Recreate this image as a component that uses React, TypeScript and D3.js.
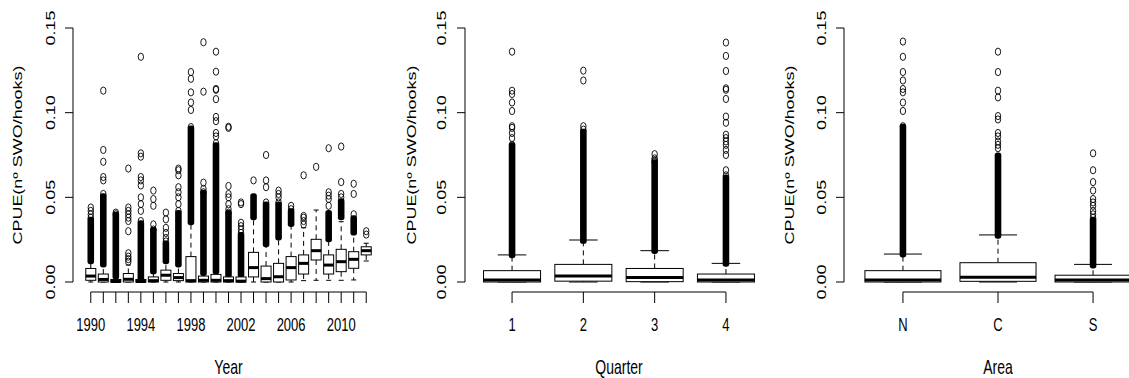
import React from "react";
import * as d3 from "d3";

// ---------- DATA ----------
const years = ["1990","1991","1992","1993","1994","1995","1996","1997","1998","1999","2000","2001","2002","2003","2004","2005","2006","2007","2008","2009","2010","2011","2012"];
const yearTickLabels = ["1990","1994","1998","2002","2006","2010"];
const yearLow = [0,0,0,0,0,0,0,0,0,0,0,0,0,0,0,0,0,0.0008,0.001,0.001,0.001,0.0012,0.0124];
const yearQ1 = [0.001,0,0,0,0,0,0.001,0.0008,0,0,0,0,0,0.003,0,0,0.0012,0.0047,0.013,0.0047,0.0061,0.0081,0.016];
const yearMedian = [0.0035,0.0015,0.0003,0.0016,0.0003,0.0008,0.004,0.0026,0.0008,0.001,0.001,0.0008,0.0005,0.0085,0.002,0.0031,0.0085,0.011,0.0185,0.01,0.012,0.0134,0.0185];
const yearQ3 = [0.008,0.0047,0.0015,0.005,0.0015,0.003,0.007,0.005,0.015,0.0035,0.0045,0.003,0.003,0.0175,0.0094,0.011,0.015,0.016,0.0252,0.016,0.0193,0.0179,0.0208];
const yearHigh = [0.012,0.010,0.003,0.010,0.002,0.007,0.012,0.010,0.035,0.005,0.006,0.004,0.004,0.038,0.022,0.026,0.034,0.032,0.0425,0.025,0.0356,0.028,0.0229];
const yearDense: ([number, number] | null)[] = [[0.013,0.036],[0.011,0.050],[0.004,0.039],null,[0.003,0.034],[0.007,0.030],[0.013,0.022],[0.011,0.040],[0.036,0.090],[0.006,0.052],[0.007,0.080],[0.005,0.040],[0.005,0.027],[0.039,0.050],[0.023,0.045],[0.027,0.045],[0.035,0.041],null,null,[0.026,0.040],[0.039,0.047],[0.030,0.037],null];
const yearOutliers = [
  [0.038,0.040,0.042,0.044],
  [0.052,0.060,0.062,0.071,0.078,0.113],
  [0.040,0.041],
  [0.012,0.0135,0.015,0.017,0.030,0.036,0.038,0.040,0.042,0.044,0.067],
  [0.036,0.042,0.046,0.050,0.057,0.060,0.062,0.074,0.076,0.133],
  [0.031,0.034,0.045,0.049,0.054],
  [0.024,0.026,0.029,0.032,0.037,0.041],
  [0.042,0.046,0.050,0.053,0.056,0.063,0.066,0.067],
  [0.0915,0.1016,0.106,0.112,0.120,0.124],
  [0.053,0.055,0.0587,0.1124,0.1416],
  [0.082,0.086,0.088,0.095,0.0975,0.108,0.1135,0.114,0.1242,0.136],
  [0.041,0.043,0.046,0.050,0.052,0.0567,0.091,0.0917],
  [0.029,0.031,0.033,0.035,0.046,0.047],
  [0.060],
  [0.047,0.056,0.060,0.075],
  [0.047,0.050,0.052,0.054],
  [0.043,0.045],
  [0.034,0.036,0.038,0.039,0.063],
  [0.068],
  [0.045,0.049,0.051,0.053,0.079],
  [0.050,0.052,0.059,0.080],
  [0.040,0.052,0.058],
  [0.028,0.030],
];

const quarters = ["1","2","3","4"];
const quarterLow = [0,0,0,0];
const quarterQ1 = [0,0.0005,0.0002,0];
const quarterMedian = [0.0012,0.0035,0.0026,0.0012];
const quarterQ3 = [0.0067,0.0104,0.008,0.0047];
const quarterHigh = [0.016,0.0248,0.0185,0.011];
const quarterDense: ([number, number] | null)[] = [[0.0165,0.080],[0.025,0.088],[0.019,0.070],[0.0115,0.061]];
const quarterOutliers = [
  [0.081,0.085,0.088,0.091,0.092,0.101,0.106,0.111,0.113,0.136],
  [0.090,0.092,0.119,0.1248],
  [0.071,0.072,0.073,0.0755],
  [0.063,0.066,0.075,0.078,0.081,0.083,0.085,0.087,0.094,0.0977,0.1081,0.1135,0.1144,0.1246,0.1335,0.1414],
];

const areas = ["N","C","S"];
const areaLow = [0,0,0];
const areaQ1 = [0,0.0004,0];
const areaMedian = [0.0012,0.0028,0.0012];
const areaQ3 = [0.0067,0.0114,0.004];
const areaHigh = [0.0165,0.0278,0.0104];
const areaDense: ([number, number] | null)[] = [[0.017,0.091],[0.028,0.074],[0.0105,0.036]];
const areaOutliers = [
  [0.092,0.101,0.106,0.112,0.114,0.119,0.124,0.133,0.142],
  [0.079,0.081,0.083,0.086,0.088,0.096,0.098,0.109,0.113,0.124,0.136],
  [0.038,0.040,0.042,0.045,0.047,0.049,0.054,0.059,0.066,0.076],
];

const yTickValues = [0, 0.05, 0.1, 0.15];
const yTickLabels = ["0.00", "0.05", "0.10", "0.15"];
const yTitle = "CPUE(nº SWO/hooks)";

// ---------- LAYOUT ----------
const W = 1129;
const H = 378;
const STRETCH = 1.38;
const FONT = "'Liberation Sans', Arial, Helvetica, sans-serif";
const Y_TOP = 28;
const Y_BOTTOM = 282;
const X_AXIS_Y = 292;
const TICK_LEN = 11;
const TICK_LABEL_Y = 325;
const X_TITLE_Y = 368;
const RX = 2.7;
const RY = 3.6;

type Series = {
  cats: string[];
  shown: string[];
  low: number[]; q1: number[]; med: number[]; q3: number[]; high: number[];
  dense: ([number, number] | null)[];
  outliers: number[][];
  title: string;
};

function SText({ x, y, rotate, size, children }: { x: number; y: number; rotate?: boolean; size: number; children: React.ReactNode }) {
  return (
    <text
      transform={`translate(${x},${y}) scale(1,${STRETCH})${rotate ? " rotate(-90)" : ""}`}
      textAnchor="middle"
      dominantBaseline="central"
      fontSize={size}
      fontFamily={FONT}
      fill="#000"
    >
      {children}
    </text>
  );
}

function Panel({ s, left, right, yTickX, yTitleX }: { s: Series; left: number; right: number; yTickX: number; yTitleX: number }) {
  const n = s.cats.length;
  const x = d3.scaleLinear().domain([0.5 - 0.04 * n, n + 0.5 + 0.04 * n]).range([left, right]);
  const y = d3.scaleLinear().domain([0, 0.15]).range([Y_BOTTOM, Y_TOP]);
  const unit = x(2) - x(1);
  const half = (unit * 0.8) / 2;
  const staple = half / 2;
  const cx = (i: number) => x(i + 1);

  return (
    <g>
      {/* y axis */}
      <line x1={left} x2={left} y1={y(0)} y2={y(0.15)} stroke="#000" strokeWidth={1} />
      {yTickValues.map((v, i) => (
        <g key={i}>
          <line x1={left - 8} x2={left} y1={y(v)} y2={y(v)} stroke="#000" strokeWidth={1} />
          <SText x={yTickX} y={y(v)} rotate size={13}>{yTickLabels[i]}</SText>
        </g>
      ))}
      <SText x={yTitleX} y={(y(0) + y(0.15)) / 2} rotate size={13}>{yTitle}</SText>

      {/* x axis */}
      <line x1={cx(0)} x2={cx(n - 1)} y1={X_AXIS_Y} y2={X_AXIS_Y} stroke="#000" strokeWidth={1} />
      {s.cats.map((c, i) => (
        <g key={c}>
          <line x1={cx(i)} x2={cx(i)} y1={X_AXIS_Y} y2={X_AXIS_Y + TICK_LEN} stroke="#000" strokeWidth={1} />
          {s.shown.includes(c) && <SText x={cx(i)} y={TICK_LABEL_Y} size={13}>{c}</SText>}
        </g>
      ))}
      <SText x={(left + right) / 2} y={X_TITLE_Y} size={14}>{s.title}</SText>

      {/* boxes */}
      {s.cats.map((c, i) => {
        const xc = cx(i);
        const d = s.dense[i];
        return (
          <g key={"b" + c}>
            {d && (
              <rect
                x={xc - RX - 0.6}
                width={2 * (RX + 0.6)}
                y={y(d[1]) - RY - 0.6}
                height={y(d[0]) - y(d[1]) + 2 * (RY + 0.6)}
                rx={RX}
                fill="#000"
              />
            )}
            {s.outliers[i].map((v, k) => (
              <ellipse key={k} cx={xc} cy={y(v)} rx={RX} ry={RY} fill="none" stroke="#000" strokeWidth={0.9} />
            ))}
            {/* whiskers */}
            <line x1={xc} x2={xc} y1={y(s.q3[i])} y2={y(s.high[i])} stroke="#000" strokeWidth={1} strokeDasharray="5,4" />
            <line x1={xc} x2={xc} y1={y(s.q1[i])} y2={y(s.low[i])} stroke="#000" strokeWidth={1} strokeDasharray="5,4" />
            <line x1={xc - staple} x2={xc + staple} y1={y(s.high[i])} y2={y(s.high[i])} stroke="#000" strokeWidth={1} />
            <line x1={xc - staple} x2={xc + staple} y1={y(s.low[i])} y2={y(s.low[i])} stroke="#000" strokeWidth={1} />
            {/* box */}
            <rect x={xc - half} width={2 * half} y={y(s.q3[i])} height={Math.max(0.5, y(s.q1[i]) - y(s.q3[i]))} fill="#fff" stroke="#000" strokeWidth={1} />
            <line x1={xc - half} x2={xc + half} y1={y(s.med[i])} y2={y(s.med[i])} stroke="#000" strokeWidth={3} />
          </g>
        );
      })}
    </g>
  );
}

export default function App() {
  const yearSeries: Series = { cats: years, shown: yearTickLabels, low: yearLow, q1: yearQ1, med: yearMedian, q3: yearQ3, high: yearHigh, dense: yearDense, outliers: yearOutliers, title: "Year" };
  const quarterSeries: Series = { cats: quarters, shown: quarters, low: quarterLow, q1: quarterQ1, med: quarterMedian, q3: quarterQ3, high: quarterHigh, dense: quarterDense, outliers: quarterOutliers, title: "Quarter" };
  const areaSeries: Series = { cats: areas, shown: areas, low: areaLow, q1: areaQ1, med: areaMedian, q3: areaQ3, high: areaHigh, dense: areaDense, outliers: areaOutliers, title: "Area" };
  return (
    <svg width={W} height={H} style={{ position: "absolute", left: 0, top: 0, background: "#fff" }}>
      <rect width={W} height={H} fill="#fff" />
      <Panel s={yearSeries} left={73} right={384} yTickX={50} yTitleX={17.5} />
      <Panel s={quarterSeries} left={465} right={773} yTickX={441} yTitleX={411} />
      <Panel s={areaSeries} left={844} right={1152} yTickX={821} yTitleX={789} />
    </svg>
  );
}
